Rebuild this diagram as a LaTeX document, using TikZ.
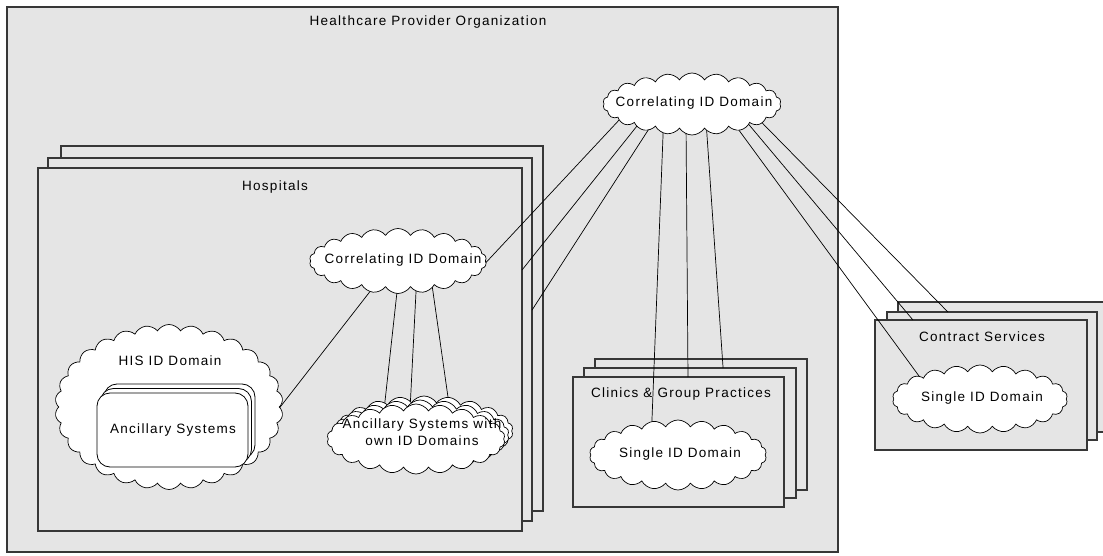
\documentclass[tikz,border=0pt]{standalone}
\usepackage{fontspec}
\setmainfont{Liberation Sans}[LetterSpace=9.5]
\usetikzlibrary{shapes.symbols,calc}
\definecolor{boxgray}{RGB}{229,229,229}
\definecolor{edgegray}{RGB}{55,55,55}

\begin{document}
\begin{tikzpicture}[x=1bp,y=-1bp,
  every node/.style={font=\fontsize{13.5bp}{16.5bp}\selectfont, inner sep=0pt, outer sep=0pt},
  panel/.style={draw=edgegray, line width=1.1bp, fill=boxgray, anchor=north west},
  appbox/.style={draw=black, line width=0.8bp, fill=white, anchor=north west,
    rounded corners=13bp, minimum width=151bp, minimum height=74bp},
  idcloud/.style={cloud, cloud puffs=#1, cloud puff arc=115, cloud ignores aspect,
    draw=black, line width=0.7bp, fill=white},
  idcloud/.default=22,
  link/.style={draw=black, line width=0.7bp},
  caption/.style={align=center}]

\useasboundingbox (0,0) rectangle (1103,556);
\fill[white] (0,0) rectangle (1103,556);

% organisation frame
\node[panel, minimum width=831bp, minimum height=545bp] (org) at (7,7) {};

% stack of hospitals
\node[panel, minimum width=482bp, minimum height=365bp] (hosp3) at (61,146) {};
\node[panel, minimum width=484bp, minimum height=363bp] (hosp2) at (48,158) {};
\node[panel, minimum width=484bp, minimum height=363bp] (hosp1) at (38,168) {};

% clinics
\node[panel, minimum width=212bp, minimum height=131bp] (clin3) at (595,359) {};
\node[panel, minimum width=212bp, minimum height=130bp] (clin2) at (584,368) {};
\node[panel, minimum width=211bp, minimum height=130bp] (clin1) at (573,377) {};

% contract services
\node[panel, minimum width=212bp, minimum height=130bp] (serv3) at (898,302) {};
\node[panel, minimum width=210bp, minimum height=128bp] (serv2) at (887,312) {};
\node[panel, minimum width=212bp, minimum height=130bp] (serv1) at (875,320) {};

% cloud centres, so that links can be laid before the clouds cover their ends
\coordinate (top) at (692,104);
\coordinate (hcorr) at (398,261);
\coordinate (his) at (169,407);
\coordinate (own3) at (424,431);
\coordinate (clincloud) at (678,455);
\coordinate (servcloud) at (980,399);

% links from the organisation-wide domain
\draw[link] ($(top)+(-71,14)$) -- ($(hcorr)+(81,9)$);
\draw[link] ($(top)+(-51.5,17.6)$) -- ($(hosp1.north east)!0.281!(hosp1.south east)$);
\draw[link] ($(top)+(-40.5,20.9)$) -- ($(hosp2.north east)!0.419!(hosp2.south east)$);
\draw[link] ($(top)+(-28.5,19)$) -- ($(clincloud)+(-26.5,-23)$);
\draw[link] ($(top)+(-6,19)$) -- ($(clin1.north west)!0.545!(clin1.north east)$);
\draw[link] ($(top)+(14,17)$) -- ($(clin2.north west)!0.656!(clin2.north east)$);
\draw[link] ($(top)+(38,14)$) -- ($(servcloud)+(-61,-23)$);
\draw[link] ($(top)+(48,10)$) -- ($(serv1.north west)!0.179!(serv1.north east)$);
\draw[link] ($(top)+(57,5.5)$) -- ($(serv2.north west)!0.29!(serv2.north east)$);

% links inside the hospital
\draw[link] ($(hcorr)+(-21,21.5)$) -- ($(his)+(104.6,8.5)$);
\draw[link] ($(hcorr)+(0.3,19)$) -- ($(own3)+(-39.3,-27)$);
\draw[link] ($(hcorr)+(18.6,19)$) -- ($(own3)+(-13.6,-29)$);
\draw[link] ($(hcorr)+(33.3,19)$) -- ($(own3)+(24.7,-29)$);

% clouds
\node[idcloud, minimum width=178bp, minimum height=62bp] (topcloud) at (top) {};
\node[idcloud, minimum width=177bp, minimum height=65bp] (hcorrcloud) at (hcorr) {};
\node[idcloud=30, minimum width=228bp, minimum height=165bp] (hiscloud) at (his) {};
\node[appbox] (anc3) at (104,384) {};
\node[appbox] (anc2) at (100.5,388.5) {};
\node[appbox] (anc1) at (97,393) {};
\node[idcloud, minimum width=178bp, minimum height=70bp] (owncloud3) at (own3) {};
\node[idcloud, minimum width=178bp, minimum height=70bp] (owncloud2) at (420,435) {};
\node[idcloud, minimum width=178bp, minimum height=70bp] (owncloud1) at (416,439) {};
\node[idcloud, minimum width=177bp, minimum height=70bp] (clinidcloud) at (clincloud) {};
\node[idcloud, minimum width=175bp, minimum height=68bp] (servidcloud) at (servcloud) {};

% texts
\node[caption] (orgtitle) at (428,22) {Healthcare Provider Organization};
\node[caption] (hosptitle) at (275,187) {Hospitals};
\node[caption] (hcorrtext) at (403,260) {Correlating ID Domain};
\node[caption] (histext) at (170,361) {HIS ID Domain};
\node[caption] (anctext) at (173,430) {Ancillary Systems};
\node[caption] (owntext) at (422,432) {Ancillary Systems with\\own ID Domains};
\node[caption] (clintitle) at (681,394) {Clinics \& Group Practices};
\node[caption] (clintext) at (680,454) {Single ID Domain};
\node[caption] (servtitle) at (982,337) {Contract Services};
\node[caption] (servtext) at (982,398) {Single ID Domain};
\node[caption] (toptext) at (694,103) {Correlating ID Domain};
\end{tikzpicture}
\end{document}
